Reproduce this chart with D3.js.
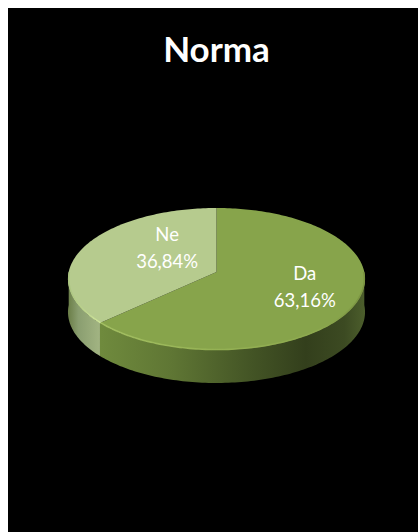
<!DOCTYPE html>
<html>
<head>
<meta charset="utf-8">
<script src="https://cdn.jsdelivr.net/npm/d3@7"></script>
<style>
html, body { margin: 0; padding: 0; background: #fff; }
svg { display: block; }
text { font-family: Lato, "Open Sans", sans-serif; fill: #fff; text-anchor: middle; }
</style>
</head>
<body>
<div id="chart"></div>
<script>
const title = 'Norma';
const categories = ['Da', 'Ne'];
const values = [63.16, 36.84];

const width = 418, height = 532;
const cx = 216.5, cy = 272;
const a = 147.8, b = 70.3, k = 0.0986; // perspective of the pie disc
const depth = 33;

const svg = d3.select('#chart').append('svg')
    .attr('width', width)
    .attr('height', height);

svg.append('rect')
    .attr('x', 8).attr('y', 8)
    .attr('width', width - 8).attr('height', height - 8)
    .attr('fill', '#000');

svg.append('text')
    .attr('x', 216.5).attr('y', 61.5)
    .style('font-size', '35px')
    .style('font-weight', 700)
    .text(title);

// maps a point of the unit disc to the picture
function project(angle, r) {
    const u = r * Math.sin(angle), v = -r * Math.cos(angle);
    const w = 1 - k * v;
    return [cx + a * u / w, cy + b * v / w];
}

function sample(a0, a1) {
    const n = Math.max(2, Math.ceil(Math.abs(a1 - a0) / 0.02));
    return d3.range(n + 1).map(i => a0 + (a1 - a0) * i / n);
}

const line = d3.line();
const slices = d3.pie().sort(null)(values);

// gradients
const defs = svg.append('defs');
function gradient(id, stops) {
    const g = defs.append('linearGradient').attr('id', id)
        .attr('gradientUnits', 'userSpaceOnUse')
        .attr('x1', 68).attr('x2', 365).attr('y1', 0).attr('y2', 0);
    stops.forEach(s => g.append('stop').attr('offset', s[0]).attr('stop-color', s[1]));
}
gradient('side0', [[0.11, '#6f8a3d'], [0.35, '#5f7634'], [0.62, '#435425'], [0.8, '#333f1c'], [0.93, '#3c4a22'], [1, '#4c5e2c']]);
gradient('side1', [[0, '#6a7d47'], [0.035, '#8a9e70'], [0.11, '#a3b583']]);
gradient('rim0', [[0.11, '#a3bf62'], [0.5, '#95b254'], [0.85, '#8ca84e'], [1, '#7a9341']]);
gradient('rim1', [[0, '#aac37f'], [0.11, '#cfe59c']]);

const sides = ['side0', 'side1'];
const rims = ['rim0', 'rim1'];
const tops = ['#87a44b', '#b6cb8e'];

// wall
const front = [Math.PI / 2, 3 * Math.PI / 2];
slices.forEach((d, i) => {
    const a0 = Math.max(d.startAngle, front[0]), a1 = Math.min(d.endAngle, front[1]);
    if (a1 <= a0) return;
    const upper = sample(a0, a1).map(t => project(t, 1));
    const lower = upper.map(p => [p[0], p[1] + depth]).reverse();
    svg.append('path')
        .attr('d', line(upper.concat(lower)) + 'Z')
        .attr('fill', `url(#${sides[i]})`);
});

// top face
slices.forEach((d, i) => {
    const pts = [project(0, 0)].concat(sample(d.startAngle, d.endAngle).map(t => project(t, 1)));
    svg.append('path')
        .attr('d', line(pts) + 'Z')
        .attr('fill', tops[i]);
});

// bevel along the front edge
slices.forEach((d, i) => {
    const a0 = Math.max(d.startAngle, front[0]), a1 = Math.min(d.endAngle, front[1]);
    if (a1 <= a0) return;
    svg.append('path')
        .attr('d', line(sample(a0, a1).map(t => project(t, 0.995))))
        .attr('fill', 'none')
        .attr('stroke', `url(#${rims[i]})`)
        .attr('stroke-width', 1.6);
});

// labels
const labelNudge = [[-2, -6], [0, -16]];
slices.forEach((d, i) => {
    const mid = (d.startAngle + d.endAngle) / 2;
    const p = project(mid, i === 0 ? 0.65 : 0.37);
    const x = p[0] + labelNudge[i][0], y = p[1] + labelNudge[i][1];
    const label = svg.append('text').style('font-size', '18.5px').attr('x', x).attr('y', y);
    label.append('tspan').attr('x', x).attr('dy', '-0.25em').text(categories[i]);
    label.append('tspan').attr('x', x).attr('dy', '1.45em')
        .text(d.data.toFixed(2).replace('.', ',') + '%');
});
</script>
</body>
</html>
